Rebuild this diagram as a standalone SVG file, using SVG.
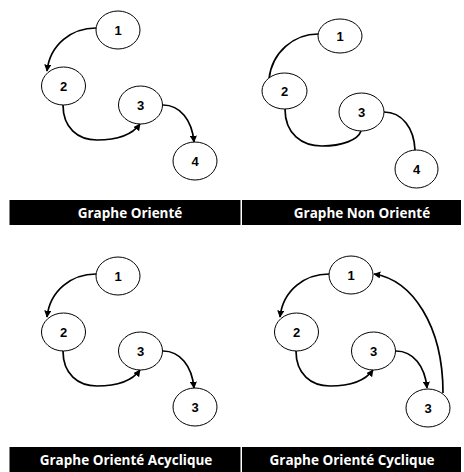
<svg xmlns="http://www.w3.org/2000/svg" width="464" height="472" viewBox="0 0 464 472">
<style>
.n ellipse{fill:#fff;stroke:#000;stroke-width:1}
.n text{font-family:"Liberation Sans",Arial,sans-serif;font-weight:bold;font-size:13px;text-anchor:middle;fill:#000}
.e{fill:none;stroke:#000;stroke-width:1.7}
.bar{fill:#000}
.lbl{font-family:"Open Sans","Liberation Sans",sans-serif;font-weight:bold;font-size:13.5px;fill:#fff;text-anchor:middle}
</style>
<defs>
<marker id="ah" viewBox="0 0 10 10" refX="9" refY="5" markerWidth="7" markerHeight="7" markerUnits="userSpaceOnUse" orient="auto">
<path d="M0,0 L10,5 L0,10 Z" fill="#000"/>
</marker>
</defs>
<rect width="464" height="472" fill="#fff"/>
<g id="connectors">
<path class="e" d="M96,28 C72,28 50,44 47,71" marker-end="url(#ah)"/>
<path class="e" d="M63,105 C63,128 78,140 97,140 C116,140 132,135 140,124" marker-end="url(#ah)"/>
<path class="e" d="M163,105 C180,105 192,120 194,142" marker-end="url(#ah)"/>
<path class="e" d="M318,34 C294,34 272,52 269,79"/>
<path class="e" d="M285,109 C285,134 302,146 322,146 C342,146 358,140 361,131"/>
<path class="e" d="M384,112 C402,112 414,128 415,150"/>
<path class="e" d="M96,274 C72,274 50,290 47,317" marker-end="url(#ah)"/>
<path class="e" d="M63,351 C63,374 78,386 97,386 C116,386 132,381 140,370" marker-end="url(#ah)"/>
<path class="e" d="M163,351 C180,351 192,366 194,388" marker-end="url(#ah)"/>
<path class="e" d="M329,274 C305,274 283,290 280,317" marker-end="url(#ah)"/>
<path class="e" d="M296,351 C296,374 311,386 330,386 C349,386 365,381 373,370" marker-end="url(#ah)"/>
<path class="e" d="M396,351 C413,351 425,366 427,388" marker-end="url(#ah)"/>
<path class="e" d="M443,393 C443,325 412,280 374,274" marker-end="url(#ah)"/>
</g>
<g id="p1n1" class="n"><ellipse cx="118" cy="30" rx="22" ry="19"/><text x="118" y="34.5">1</text></g>
<g id="p1n2" class="n"><ellipse cx="63.5" cy="86" rx="22" ry="19"/><text x="63.5" y="90.5">2</text></g>
<g id="p1n3" class="n"><ellipse cx="140.5" cy="105" rx="22" ry="19"/><text x="140.5" y="109.5">3</text></g>
<g id="p1n4" class="n"><ellipse cx="195" cy="161" rx="22" ry="19"/><text x="195" y="165.5">4</text></g>
<g id="p2n1" class="n"><ellipse cx="340" cy="36" rx="22" ry="17"/><text x="340" y="40.5">1</text></g>
<g id="p2n2" class="n"><ellipse cx="284.5" cy="91" rx="22.5" ry="18"/><text x="284.5" y="95.5">2</text></g>
<g id="p2n3" class="n"><ellipse cx="361.5" cy="112" rx="22.5" ry="19"/><text x="361.5" y="116.5">3</text></g>
<g id="p2n4" class="n"><ellipse cx="416.5" cy="169" rx="21.5" ry="19"/><text x="416.5" y="173.5">4</text></g>
<g id="p3n1" class="n"><ellipse cx="118" cy="276" rx="22" ry="19"/><text x="118" y="280.5">1</text></g>
<g id="p3n2" class="n"><ellipse cx="63.5" cy="332" rx="22" ry="19"/><text x="63.5" y="336.5">2</text></g>
<g id="p3n3" class="n"><ellipse cx="140.5" cy="351" rx="22" ry="19"/><text x="140.5" y="355.5">3</text></g>
<g id="p3n4" class="n"><ellipse cx="195" cy="407" rx="22" ry="19"/><text x="195" y="411.5">3</text></g>
<g id="p4n1" class="n"><ellipse cx="351" cy="275" rx="22" ry="19"/><text x="351" y="279.5">1</text></g>
<g id="p4n2" class="n"><ellipse cx="296.5" cy="332" rx="22" ry="19"/><text x="296.5" y="336.5">2</text></g>
<g id="p4n3" class="n"><ellipse cx="373.5" cy="351" rx="22" ry="19"/><text x="373.5" y="355.5">3</text></g>
<g id="p4n4" class="n"><ellipse cx="428" cy="408" rx="22" ry="19"/><text x="428" y="412.5">3</text></g>
<g id="labels">
<rect class="bar" x="9.5" y="200" width="231" height="25"/>
<rect class="bar" x="242" y="200" width="219" height="25"/>
<rect class="bar" x="9.5" y="447" width="231" height="25"/>
<rect class="bar" x="242" y="447" width="219" height="25"/>
<text class="lbl" x="130" y="217.5">Graphe Orienté</text>
<text class="lbl" x="362" y="217.5">Graphe Non Orienté</text>
<text class="lbl" x="126" y="464.5">Graphe Orienté Acyclique</text>
<text class="lbl" x="352" y="464.5">Graphe Orienté Cyclique</text>
</g>
</svg>
